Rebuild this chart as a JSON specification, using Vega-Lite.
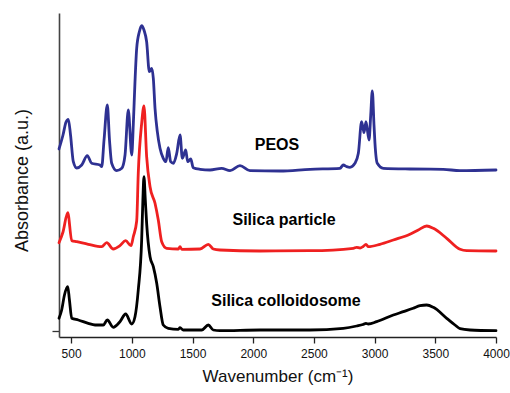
{
  "$schema": "https://vega.github.io/schema/vega-lite/v6.json",
  "width": 437,
  "height": 324,
  "autosize": {"type": "none"},
  "padding": {"left": 59, "top": 13, "right": 14, "bottom": 56},
  "background": "white",
  "config": {
    "view": {"stroke": null},
    "font": "Liberation Sans",
    "axis": {"labelFont": "Liberation Sans", "titleFont": "Liberation Sans", "grid": false}
  },
  "datasets": {
    "spectra": [
      {"s": "PEOS", "wn": 400, "a": 182},
      {"s": "PEOS", "wn": 433, "a": 196},
      {"s": "PEOS", "wn": 458, "a": 209},
      {"s": "PEOS", "wn": 477, "a": 211.7},
      {"s": "PEOS", "wn": 495, "a": 196},
      {"s": "PEOS", "wn": 518, "a": 169.3},
      {"s": "PEOS", "wn": 546, "a": 163},
      {"s": "PEOS", "wn": 587, "a": 166},
      {"s": "PEOS", "wn": 633, "a": 175.3},
      {"s": "PEOS", "wn": 669, "a": 167.7},
      {"s": "PEOS", "wn": 738, "a": 166},
      {"s": "PEOS", "wn": 752, "a": 164.3},
      {"s": "PEOS", "wn": 771, "a": 191},
      {"s": "PEOS", "wn": 798, "a": 226},
      {"s": "PEOS", "wn": 816, "a": 191},
      {"s": "PEOS", "wn": 834, "a": 167.7},
      {"s": "PEOS", "wn": 875, "a": 160.3},
      {"s": "PEOS", "wn": 917, "a": 162.7},
      {"s": "PEOS", "wn": 944, "a": 176},
      {"s": "PEOS", "wn": 971, "a": 221},
      {"s": "PEOS", "wn": 999, "a": 176},
      {"s": "PEOS", "wn": 1012, "a": 206},
      {"s": "PEOS", "wn": 1026, "a": 249.3},
      {"s": "PEOS", "wn": 1040, "a": 282.7},
      {"s": "PEOS", "wn": 1062, "a": 299.3},
      {"s": "PEOS", "wn": 1081, "a": 305.3},
      {"s": "PEOS", "wn": 1100, "a": 301},
      {"s": "PEOS", "wn": 1122, "a": 289.3},
      {"s": "PEOS", "wn": 1144, "a": 259.3},
      {"s": "PEOS", "wn": 1164, "a": 262.7},
      {"s": "PEOS", "wn": 1177, "a": 252.7},
      {"s": "PEOS", "wn": 1191, "a": 222.7},
      {"s": "PEOS", "wn": 1210, "a": 199.3},
      {"s": "PEOS", "wn": 1232, "a": 182.7},
      {"s": "PEOS", "wn": 1259, "a": 172.7},
      {"s": "PEOS", "wn": 1281, "a": 169.3},
      {"s": "PEOS", "wn": 1300, "a": 183.3},
      {"s": "PEOS", "wn": 1320, "a": 169.3},
      {"s": "PEOS", "wn": 1342, "a": 167.7},
      {"s": "PEOS", "wn": 1370, "a": 177.7},
      {"s": "PEOS", "wn": 1397, "a": 196},
      {"s": "PEOS", "wn": 1416, "a": 172.7},
      {"s": "PEOS", "wn": 1444, "a": 181},
      {"s": "PEOS", "wn": 1460, "a": 169.3},
      {"s": "PEOS", "wn": 1485, "a": 172},
      {"s": "PEOS", "wn": 1506, "a": 163.3},
      {"s": "PEOS", "wn": 1562, "a": 161.7},
      {"s": "PEOS", "wn": 1644, "a": 161},
      {"s": "PEOS", "wn": 1740, "a": 162.7},
      {"s": "PEOS", "wn": 1809, "a": 160.3},
      {"s": "PEOS", "wn": 1891, "a": 165.3},
      {"s": "PEOS", "wn": 1973, "a": 160.3},
      {"s": "PEOS", "wn": 2220, "a": 160},
      {"s": "PEOS", "wn": 2468, "a": 161.7},
      {"s": "PEOS", "wn": 2715, "a": 162.7},
      {"s": "PEOS", "wn": 2742, "a": 166},
      {"s": "PEOS", "wn": 2770, "a": 164.3},
      {"s": "PEOS", "wn": 2797, "a": 163.7},
      {"s": "PEOS", "wn": 2838, "a": 167.7},
      {"s": "PEOS", "wn": 2866, "a": 177.7},
      {"s": "PEOS", "wn": 2893, "a": 209.3},
      {"s": "PEOS", "wn": 2913, "a": 198.3},
      {"s": "PEOS", "wn": 2929, "a": 209.3},
      {"s": "PEOS", "wn": 2954, "a": 191},
      {"s": "PEOS", "wn": 2968, "a": 216},
      {"s": "PEOS", "wn": 2981, "a": 240},
      {"s": "PEOS", "wn": 2995, "a": 206},
      {"s": "PEOS", "wn": 3003, "a": 187.7},
      {"s": "PEOS", "wn": 3022, "a": 167.7},
      {"s": "PEOS", "wn": 3072, "a": 162.7},
      {"s": "PEOS", "wn": 3291, "a": 162},
      {"s": "PEOS", "wn": 3566, "a": 161.7},
      {"s": "PEOS", "wn": 3703, "a": 160.3},
      {"s": "PEOS", "wn": 4000, "a": 161},

      {"s": "Silica particle", "wn": 400, "a": 88.3},
      {"s": "Silica particle", "wn": 433, "a": 99},
      {"s": "Silica particle", "wn": 472, "a": 118.3},
      {"s": "Silica particle", "wn": 505, "a": 90.3},
      {"s": "Silica particle", "wn": 546, "a": 89.3},
      {"s": "Silica particle", "wn": 641, "a": 86.7},
      {"s": "Silica particle", "wn": 752, "a": 84.3},
      {"s": "Silica particle", "wn": 793, "a": 88.3},
      {"s": "Silica particle", "wn": 847, "a": 82},
      {"s": "Silica particle", "wn": 902, "a": 85.3},
      {"s": "Silica particle", "wn": 949, "a": 90.3},
      {"s": "Silica particle", "wn": 993, "a": 85.3},
      {"s": "Silica particle", "wn": 1012, "a": 94.3},
      {"s": "Silica particle", "wn": 1040, "a": 110},
      {"s": "Silica particle", "wn": 1053, "a": 157.7},
      {"s": "Silica particle", "wn": 1081, "a": 207.7},
      {"s": "Silica particle", "wn": 1100, "a": 225},
      {"s": "Silica particle", "wn": 1122, "a": 174.3},
      {"s": "Silica particle", "wn": 1150, "a": 144.3},
      {"s": "Silica particle", "wn": 1191, "a": 127.7},
      {"s": "Silica particle", "wn": 1218, "a": 111},
      {"s": "Silica particle", "wn": 1246, "a": 89.3},
      {"s": "Silica particle", "wn": 1287, "a": 82.7},
      {"s": "Silica particle", "wn": 1383, "a": 82},
      {"s": "Silica particle", "wn": 1397, "a": 84.3},
      {"s": "Silica particle", "wn": 1411, "a": 81.7},
      {"s": "Silica particle", "wn": 1562, "a": 82},
      {"s": "Silica particle", "wn": 1630, "a": 86.7},
      {"s": "Silica particle", "wn": 1671, "a": 82},
      {"s": "Silica particle", "wn": 1726, "a": 81},
      {"s": "Silica particle", "wn": 2056, "a": 80},
      {"s": "Silica particle", "wn": 2468, "a": 80.3},
      {"s": "Silica particle", "wn": 2825, "a": 82.7},
      {"s": "Silica particle", "wn": 2852, "a": 83.7},
      {"s": "Silica particle", "wn": 2880, "a": 83},
      {"s": "Silica particle", "wn": 2904, "a": 84.3},
      {"s": "Silica particle", "wn": 2929, "a": 86.7},
      {"s": "Silica particle", "wn": 2948, "a": 84.3},
      {"s": "Silica particle", "wn": 3044, "a": 86.7},
      {"s": "Silica particle", "wn": 3154, "a": 91},
      {"s": "Silica particle", "wn": 3291, "a": 96.7},
      {"s": "Silica particle", "wn": 3360, "a": 101},
      {"s": "Silica particle", "wn": 3429, "a": 105},
      {"s": "Silica particle", "wn": 3484, "a": 102.7},
      {"s": "Silica particle", "wn": 3594, "a": 92.7},
      {"s": "Silica particle", "wn": 3704, "a": 81.7},
      {"s": "Silica particle", "wn": 3759, "a": 80.3},
      {"s": "Silica particle", "wn": 4000, "a": 80},

      {"s": "Silica colloidosome", "wn": 400, "a": 12.7},
      {"s": "Silica colloidosome", "wn": 422, "a": 21},
      {"s": "Silica colloidosome", "wn": 445, "a": 36},
      {"s": "Silica colloidosome", "wn": 472, "a": 44.3},
      {"s": "Silica colloidosome", "wn": 486, "a": 31},
      {"s": "Silica colloidosome", "wn": 505, "a": 12.7},
      {"s": "Silica colloidosome", "wn": 559, "a": 11},
      {"s": "Silica colloidosome", "wn": 641, "a": 7.7},
      {"s": "Silica colloidosome", "wn": 697, "a": 6},
      {"s": "Silica colloidosome", "wn": 765, "a": 6},
      {"s": "Silica colloidosome", "wn": 798, "a": 11},
      {"s": "Silica colloidosome", "wn": 847, "a": 3.7},
      {"s": "Silica colloidosome", "wn": 902, "a": 9.3},
      {"s": "Silica colloidosome", "wn": 949, "a": 17},
      {"s": "Silica colloidosome", "wn": 999, "a": 7},
      {"s": "Silica colloidosome", "wn": 1026, "a": 14.3},
      {"s": "Silica colloidosome", "wn": 1053, "a": 41},
      {"s": "Silica colloidosome", "wn": 1081, "a": 91},
      {"s": "Silica colloidosome", "wn": 1091, "a": 131},
      {"s": "Silica colloidosome", "wn": 1100, "a": 154.3},
      {"s": "Silica colloidosome", "wn": 1111, "a": 131},
      {"s": "Silica colloidosome", "wn": 1122, "a": 107.7},
      {"s": "Silica colloidosome", "wn": 1150, "a": 74.3},
      {"s": "Silica colloidosome", "wn": 1177, "a": 64.3},
      {"s": "Silica colloidosome", "wn": 1205, "a": 47.7},
      {"s": "Silica colloidosome", "wn": 1232, "a": 24.3},
      {"s": "Silica colloidosome", "wn": 1259, "a": 6},
      {"s": "Silica colloidosome", "wn": 1300, "a": 2.7},
      {"s": "Silica colloidosome", "wn": 1383, "a": 1.7},
      {"s": "Silica colloidosome", "wn": 1397, "a": 3.3},
      {"s": "Silica colloidosome", "wn": 1424, "a": 1},
      {"s": "Silica colloidosome", "wn": 1576, "a": 1},
      {"s": "Silica colloidosome", "wn": 1630, "a": 6},
      {"s": "Silica colloidosome", "wn": 1671, "a": 1},
      {"s": "Silica colloidosome", "wn": 1726, "a": 0.3},
      {"s": "Silica colloidosome", "wn": 2056, "a": 1},
      {"s": "Silica colloidosome", "wn": 2468, "a": 1},
      {"s": "Silica colloidosome", "wn": 2742, "a": 2.7},
      {"s": "Silica colloidosome", "wn": 2852, "a": 5},
      {"s": "Silica colloidosome", "wn": 2904, "a": 6.5},
      {"s": "Silica colloidosome", "wn": 2929, "a": 7.7},
      {"s": "Silica colloidosome", "wn": 2948, "a": 7},
      {"s": "Silica colloidosome", "wn": 3017, "a": 9.3},
      {"s": "Silica colloidosome", "wn": 3154, "a": 16},
      {"s": "Silica colloidosome", "wn": 3236, "a": 19.3},
      {"s": "Silica colloidosome", "wn": 3318, "a": 22.7},
      {"s": "Silica colloidosome", "wn": 3374, "a": 25.3},
      {"s": "Silica colloidosome", "wn": 3429, "a": 26},
      {"s": "Silica colloidosome", "wn": 3484, "a": 23.7},
      {"s": "Silica colloidosome", "wn": 3594, "a": 12.7},
      {"s": "Silica colloidosome", "wn": 3662, "a": 6},
      {"s": "Silica colloidosome", "wn": 3704, "a": 2.3},
      {"s": "Silica colloidosome", "wn": 3786, "a": 1},
      {"s": "Silica colloidosome", "wn": 4000, "a": 0.3}
    ],
    "labels": [
      {"label": "PEOS", "wn": 2196, "a": 186},
      {"label": "Silica particle", "wn": 2254, "a": 111},
      {"label": "Silica colloidosome", "wn": 2270, "a": 30}
    ]
  },
  "layer": [
    {
      "data": {"name": "spectra"},
      "mark": {"type": "line", "strokeWidth": 2.8, "strokeJoin": "round", "strokeCap": "round", "interpolate": "monotone"},
      "encoding": {
        "x": {
          "field": "wn", "type": "quantitative",
          "scale": {"domain": [400, 4000], "nice": false, "zero": false},
          "axis": {
            "title": "Wavenumber (cm⁻¹)",
            "values": [500, 750, 1000, 1250, 1500, 1750, 2000, 2250, 2500, 2750, 3000, 3250, 3500, 3750, 4000],
            "labelExpr": "datum.value % 500 == 0 ? datum.label : ''",
            "format": "d",
            "labelFontSize": 12,
            "labelColor": "#111",
            "labelPadding": 5,
            "labelFlush": false,
            "labelOverlap": false,
            "tickSize": 6,
            "tickWidth": 1.3,
            "tickColor": "#222",
            "domainColor": "#222",
            "domainWidth": 1.6,
            "titleFontSize": 17,
            "titleFontWeight": "normal",
            "titleColor": "#111",
            "titlePadding": 9
          }
        },
        "y": {
          "field": "a", "type": "quantitative",
          "scale": {"domain": [-6, 318], "nice": false, "zero": false},
          "axis": {
            "title": "Absorbance (a.u.)",
            "values": [0],
            "labels": false,
            "tickSize": 7,
            "tickWidth": 1.3,
            "tickColor": "#333",
            "domainColor": "#444",
            "domainWidth": 1.6,
            "titleFontSize": 18,
            "titleFontWeight": "normal",
            "titleColor": "#111",
            "titlePadding": 20,
            "titleY": 167
          }
        },
        "color": {
          "field": "s", "type": "nominal",
          "scale": {"domain": ["PEOS", "Silica particle", "Silica colloidosome"], "range": ["#2e3192", "#ef2020", "#000000"]},
          "legend": null
        }
      }
    },
    {
      "data": {"name": "labels"},
      "mark": {"type": "text", "fontSize": 16, "fontWeight": "bold", "font": "Liberation Sans", "align": "center", "baseline": "middle", "color": "#000"},
      "encoding": {
        "x": {"field": "wn", "type": "quantitative"},
        "y": {"field": "a", "type": "quantitative"},
        "text": {"field": "label"}
      }
    }
  ]
}
